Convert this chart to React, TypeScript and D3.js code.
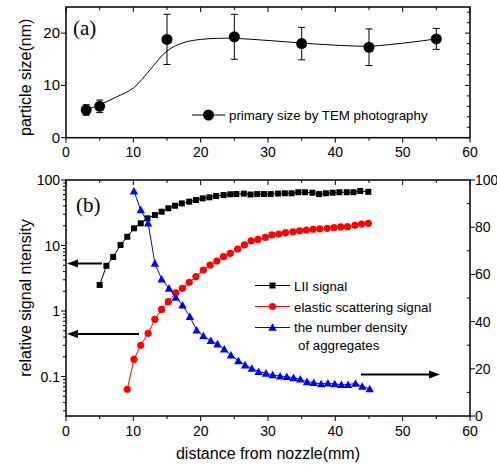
import React from 'react';
import * as d3 from 'd3';

// ---------- data: panel (a) ----------
const temX = [3, 5, 15, 25, 35, 45, 55];
const temSize = [5.3, 6.0, 18.8, 19.3, 18.0, 17.3, 18.9];
const temErr = [1.0, 1.2, 4.8, 4.3, 3.1, 3.5, 2.0];
const fitX = [3, 5, 7.5, 10, 12.5, 15, 17.5, 20, 22.5, 25, 30, 35, 40, 45, 48, 51.5, 55];
const fitY = [5.3, 6.3, 7.8, 9.5, 13.0, 16.6, 18.2, 18.8, 19.0, 19.0, 18.6, 18.1, 17.7, 17.5, 17.8, 18.3, 18.9];

// ---------- data: panel (b) ----------
const liiX = [5.0, 6.0, 7.0, 8.1, 9.1, 10.1, 11.1, 12.1, 13.2, 14.2, 15.2, 16.2, 17.2, 18.3, 19.3, 20.3, 21.3, 22.3, 23.4, 24.4,
  25.3, 26.4, 27.4, 28.4, 29.4, 30.4, 31.5, 32.5, 33.5, 34.5, 35.5, 36.6, 37.6, 38.6, 39.6, 40.6, 41.7, 42.7, 43.7, 44.9];
const liiY = [2.5, 4.9, 6.7, 10.2, 13.6, 18.3, 21.8, 26, 29.2, 32.8, 37, 40.5, 44, 46.7, 49.5, 52.5, 54.4, 57, 59, 60.5,
  61.1, 62, 60, 61, 61, 61, 62, 62.7, 62.7, 65, 65, 64, 61, 62.7, 64, 65, 65, 65, 68, 66];

const elasticX = [9.1, 10.1, 11.1, 12.2, 13.2, 14.2, 15.2, 16.3, 17.3, 18.3, 19.3, 20.4, 21.4, 22.4, 23.4, 24.4, 25.5, 26.5,
  27.5, 28.5, 29.6, 30.6, 31.6, 32.6, 33.7, 34.7, 35.7, 36.7, 37.7, 38.8, 39.8, 40.8, 41.8, 42.9, 43.9, 44.9];
const elasticY = [0.064, 0.183, 0.30, 0.457, 0.747, 1.06, 1.39, 1.9, 2.22, 2.74, 3.34, 4.23, 5.04, 5.8, 6.75, 7.6, 8.85, 10.2,
  11.8, 12.4, 13.3, 14.5, 15, 15.7, 16.2, 16.8, 17.2, 17.7, 18, 18.3, 18.7, 19.2, 19.4, 20.3, 21.3, 21.8];

const densityX = [10.1, 11.1, 12.2, 13.2, 14.2, 15.3, 16.3, 17.3, 18.4, 19.4, 20.4, 21.5, 22.5, 23.5, 24.5, 25.6, 26.6,
  27.6, 28.6, 29.7, 30.7, 31.8, 32.8, 33.8, 34.8, 35.8, 36.8, 37.9, 38.9, 39.9, 40.9, 41.9, 43.0, 44.0, 45.1];
const densityY = [95.3, 87.3, 81.7, 64.7, 58, 54.1, 50.3, 47, 42.1, 36.4, 33.9, 31.9, 30.5, 28.3, 25.8, 23.4, 21.6,
  20.2, 18.8, 18.1, 17.4, 16.9, 16.7, 16.2, 15.6, 14.5, 14.1, 13.6, 13.9, 13.6, 13.3, 13.3, 13.8, 12.5, 11.5];

// ---------- ticks ----------
const xMajor = [0, 10, 20, 30, 40, 50, 60];
const xMinor = [5, 15, 25, 35, 45, 55];
const sizeMajor = [0, 10, 20];
const sizeMinorRight = [2, 4, 6, 8, 12, 14, 16, 18, 22, 24];
const logMajor = [0.1, 1, 10, 100];
const logMajorLabels = ['0.1', '1', '10', '100'];
const rightMajor = [0, 20, 40, 60, 80, 100];
const rightMinor = [10, 30, 50, 70, 90];

const SANS = '"Liberation Sans", Arial, sans-serif';
const SERIF = '"Liberation Serif", "Times New Roman", serif';

const L = 66, R = 470;
const A_TOP = 7, A_BOT = 137.7;
const B_TOP = 180, B_BOT = 416;

export default function App() {
  const x = d3.scaleLinear().domain([0, 60]).range([L, R]);
  const ya = d3.scaleLinear().domain([0, 25]).range([A_BOT, A_TOP]);
  const yLog = d3.scaleLog().domain([0.025, 100]).range([B_BOT, B_TOP]);
  const yR = d3.scaleLinear().domain([0, 100]).range([B_BOT, B_TOP]);

  const logMinor: number[] = [];
  [0.01, 0.1, 1, 10].forEach((d) => {
    for (let k = 2; k <= 9; k++) {
      const v = k * d;
      if (v >= 0.025 && v <= 100) logMinor.push(v);
    }
  });

  const fitLine = d3.line<number>().x((_, i) => x(fitX[i])).y((d) => ya(d)).curve(d3.curveCatmullRom.alpha(0.5));
  const liiLine = d3.line<number>().x((_, i) => x(liiX[i])).y((d) => yLog(d));
  const elLine = d3.line<number>().x((_, i) => x(elasticX[i])).y((d) => yLog(d));
  const dnLine = d3.line<number>().x((_, i) => x(densityX[i])).y((d) => yR(d));

  const tri = (cx: number, cy: number, s = 4.2) =>
    `M${cx},${cy - s}L${cx + s},${cy + s * 0.8}L${cx - s},${cy + s * 0.8}Z`;

  const arrow = (x1: number, x2: number, y: number) => {
    const dir = x2 > x1 ? 1 : -1;
    const head = 11;
    return (
      <g>
        <line x1={x1} x2={x2 - dir * head} y1={y} y2={y} stroke="#000" strokeWidth={2} />
        <path d={`M${x2},${y}L${x2 - dir * head},${y - 4}L${x2 - dir * head},${y + 4}Z`} fill="#000" />
      </g>
    );
  };

  return (
    <svg width={497} height={467} style={{ position: 'absolute', left: 0, top: 0, background: '#fff' }}
      fontFamily={SANS}>
      <rect x={0} y={0} width={497} height={467} fill="#fff" />

      {/* ================= Panel (a) ================= */}
      <g>
        {xMajor.map((t) => (
          <g key={'am' + t}>
            <line x1={x(t)} x2={x(t)} y1={A_BOT} y2={A_BOT + 5} stroke="#000" strokeWidth={1} />
            <line x1={x(t)} x2={x(t)} y1={A_TOP} y2={A_TOP + 5} stroke="#000" strokeWidth={1} />
            <text x={x(t)} y={157} fontSize={14} textAnchor="middle">{t}</text>
          </g>
        ))}
        {xMinor.map((t) => (
          <g key={'an' + t}>
            <line x1={x(t)} x2={x(t)} y1={A_BOT} y2={A_BOT + 3} stroke="#000" />
            <line x1={x(t)} x2={x(t)} y1={A_TOP} y2={A_TOP + 3} stroke="#000" />
          </g>
        ))}
        {sizeMajor.map((t) => (
          <g key={'as' + t}>
            <line x1={L - 5} x2={L} y1={ya(t)} y2={ya(t)} stroke="#000" />
            <line x1={R - 5} x2={R} y1={ya(t)} y2={ya(t)} stroke="#000" />
            <text x={60} y={ya(t) + 5} fontSize={15} textAnchor="end">{t}</text>
          </g>
        ))}
        {sizeMinorRight.map((t) => (
          <line key={'asr' + t} x1={R - 3} x2={R} y1={ya(t)} y2={ya(t)} stroke="#000" />
        ))}
        <rect x={L} y={A_TOP} width={R - L} height={A_BOT - A_TOP} fill="none" stroke="#000" strokeWidth={1.5} />

        <path d={fitLine(fitY) || ''} fill="none" stroke="#000" strokeWidth={1} />
        {temX.map((d, i) => (
          <g key={'tem' + i}>
            <line x1={x(d)} x2={x(d)} y1={ya(temSize[i] - temErr[i])} y2={ya(temSize[i] + temErr[i])} stroke="#000" />
            <line x1={x(d) - 3.5} x2={x(d) + 3.5} y1={ya(temSize[i] - temErr[i])} y2={ya(temSize[i] - temErr[i])} stroke="#000" />
            <line x1={x(d) - 3.5} x2={x(d) + 3.5} y1={ya(temSize[i] + temErr[i])} y2={ya(temSize[i] + temErr[i])} stroke="#000" />
            <circle cx={x(d)} cy={ya(temSize[i])} r={5.5} fill="#000" />
          </g>
        ))}

        <text x={73} y={35} fontSize={21} fontFamily={SERIF}>(a)</text>

        <line x1={192} x2={225} y1={115} y2={115} stroke="#000" />
        <circle cx={208.5} cy={115} r={5.5} fill="#000" />
        <text x={229} y={120} fontSize={13.3}>primary size by TEM photography</text>

        <text transform={`translate(31,${(A_TOP + A_BOT) / 2 + 5}) rotate(-90)`} fontSize={16} textAnchor="middle">
          particle size(nm)
        </text>
      </g>

      {/* ================= Panel (b) ================= */}
      <g>
        {xMajor.map((t) => (
          <g key={'bm' + t}>
            <line x1={x(t)} x2={x(t)} y1={B_BOT} y2={B_BOT + 5} stroke="#000" />
            <line x1={x(t)} x2={x(t)} y1={B_TOP} y2={B_TOP + 5} stroke="#000" />
            <text x={x(t)} y={436} fontSize={14} textAnchor="middle">{t}</text>
          </g>
        ))}
        {xMinor.map((t) => (
          <g key={'bn' + t}>
            <line x1={x(t)} x2={x(t)} y1={B_BOT} y2={B_BOT + 3} stroke="#000" />
            <line x1={x(t)} x2={x(t)} y1={B_TOP} y2={B_TOP + 3} stroke="#000" />
          </g>
        ))}
        {logMajor.map((t, i) => (
          <g key={'bl' + t}>
            <line x1={L - 5} x2={L} y1={yLog(t)} y2={yLog(t)} stroke="#000" />
            <text x={60} y={yLog(t) + 5} fontSize={14} textAnchor="end">{logMajorLabels[i]}</text>
          </g>
        ))}
        {logMinor.map((t) => (
          <line key={'bln' + t} x1={L - 3} x2={L} y1={yLog(t)} y2={yLog(t)} stroke="#000" />
        ))}
        {rightMajor.map((t) => (
          <g key={'br' + t}>
            <line x1={R} x2={R + 5} y1={yR(t)} y2={yR(t)} stroke="#000" />
            <text x={475} y={yR(t) + 5} fontSize={14} textAnchor="start">{t}</text>
          </g>
        ))}
        {rightMinor.map((t) => (
          <line key={'brn' + t} x1={R - 3} x2={R} y1={yR(t)} y2={yR(t)} stroke="#000" />
        ))}
        <rect x={L} y={B_TOP} width={R - L} height={B_BOT - B_TOP} fill="none" stroke="#000" strokeWidth={1.5} />

        <path d={liiLine(liiY) || ''} fill="none" stroke="#000" strokeWidth={1} />
        {liiY.map((d, i) => (
          <rect key={'lii' + i} x={x(liiX[i]) - 3} y={yLog(d) - 3} width={6} height={6} fill="#000" />
        ))}
        <path d={elLine(elasticY) || ''} fill="none" stroke="#ff0000" strokeWidth={1} />
        {elasticY.map((d, i) => (
          <circle key={'el' + i} cx={x(elasticX[i])} cy={yLog(d)} r={3.6} fill="#ff0000" />
        ))}
        <path d={dnLine(densityY) || ''} fill="none" stroke="#0000ff" strokeWidth={1} />
        {densityY.map((d, i) => (
          <path key={'dn' + i} d={tri(x(densityX[i]), yR(d))} fill="#0000ff" />
        ))}

        {arrow(102, 67, 263.5)}
        {arrow(139, 67, 334)}
        {arrow(361, 440, 374.5)}

        <text x={76} y={212} fontSize={21} fontFamily={SERIF}>(b)</text>

        <line x1={255} x2={290} y1={285.5} y2={285.5} stroke="#000" />
        <rect x={269.5} y={282.5} width={6} height={6} fill="#000" />
        <text x={294} y={290.5} fontSize={13.3}>LII signal</text>

        <line x1={255} x2={290} y1={306.5} y2={306.5} stroke="#ff0000" />
        <circle cx={272.5} cy={306.5} r={3.6} fill="#ff0000" />
        <text x={294} y={311.5} fontSize={13.3}>elastic scattering signal</text>

        <line x1={255} x2={290} y1={327.5} y2={327.5} stroke="#0000ff" />
        <path d={tri(272.5, 327.5)} fill="#0000ff" />
        <text x={294} y={332} fontSize={13.3}>the number density</text>
        <text x={298} y={350} fontSize={13.3}>of aggregates</text>

        <text transform={`translate(31,${(B_TOP + B_BOT) / 2}) rotate(-90)`} fontSize={16} textAnchor="middle">
          relative signal ntensity
        </text>
        <text x={(L + R) / 2} y={459} fontSize={16} textAnchor="middle">distance from nozzle(mm)</text>
      </g>
    </svg>
  );
}
